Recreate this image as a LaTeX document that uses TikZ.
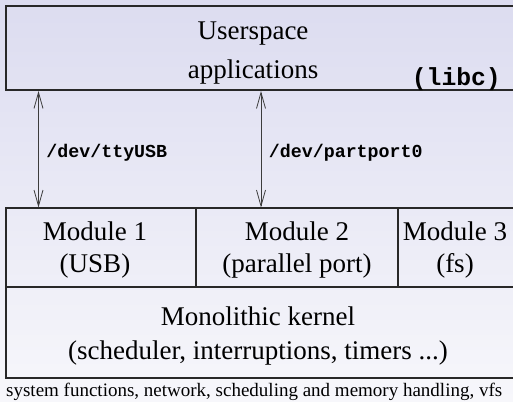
\documentclass[tikz,border=0pt]{standalone}
\usepackage{fontspec}
\setmainfont{Liberation Serif}
\setmonofont{Liberation Mono}
\usetikzlibrary{arrows.meta}
\definecolor{bgtop}{RGB}{220,220,240}
\definecolor{bgbot}{RGB}{247,247,251}
\definecolor{edge}{RGB}{40,40,40}
\definecolor{arr}{RGB}{60,60,60}
\tikzset{
  boxline/.style={draw=edge, line width=1.3pt},
  big/.style={font=\fontsize{27}{32}\selectfont, align=center, inner sep=0pt},
  devlbl/.style={font=\fontsize{18.3}{20}\selectfont\ttfamily\bfseries, anchor=west, inner sep=0pt},
  dblarrow/.style={draw=arr, line width=0.8pt, {Straight Barb[length=16pt,width=9pt]}-{Straight Barb[length=16pt,width=9pt]}},
}
\begin{document}
\begin{tikzpicture}[x=1pt,y=-1pt]
\shade[top color=bgtop, bottom color=bgbot] (0,0) rectangle (513,401);
\useasboundingbox (0,0) rectangle (513,401);
% top box
\draw[boxline] (6,6) rectangle (513.5,90);
\node[big, font=\fontsize{27}{39}\selectfont] (user) at (253,53) {Userspace\\applications};
\node[font=\fontsize{24.7}{26}\selectfont\ttfamily\bfseries, anchor=base east, inner sep=0pt] (libc) at (501,85) {(libc)};
% modules
\draw[boxline] (6,208) rectangle (196,287);
\draw[boxline] (196,208) rectangle (398,287);
\draw[boxline] (398,208) rectangle (513.5,287);
\draw[boxline] (6,287) rectangle (513.5,378);
\coordinate (u1) at (38.5,91);
\coordinate (u2) at (261,91);
\coordinate (m1) at (38.5,207.5);
\coordinate (m2) at (261,207.5);
\node[big, font=\fontsize{27}{31.5}\selectfont] (mod1) at (95,250) {Module 1\\(USB)};
\node[big, font=\fontsize{27}{31.5}\selectfont] (mod2) at (297,250) {Module 2\\(parallel port)};
\node[big, font=\fontsize{27}{31.5}\selectfont] (mod3) at (455,250) {Module 3\\(fs)};
\node[big, font=\fontsize{27}{34}\selectfont] (kern) at (258,336) {Monolithic kernel\\(scheduler, interruptions, timers ...)};
% arrows
\draw[dblarrow] (u1) -- node[devlbl, pos=0.53, xshift=7.5pt] (l1) {/dev/ttyUSB} (m1);
\draw[dblarrow] (u2) -- node[devlbl, pos=0.53, xshift=7.5pt] (l2) {/dev/partport0} (m2);
% caption
\node[font=\fontsize{19}{22}\selectfont, anchor=base west, inner sep=0pt] (cap) at (6,396) {system functions, network, scheduling and memory handling, vfs};
\end{tikzpicture}
\end{document}
